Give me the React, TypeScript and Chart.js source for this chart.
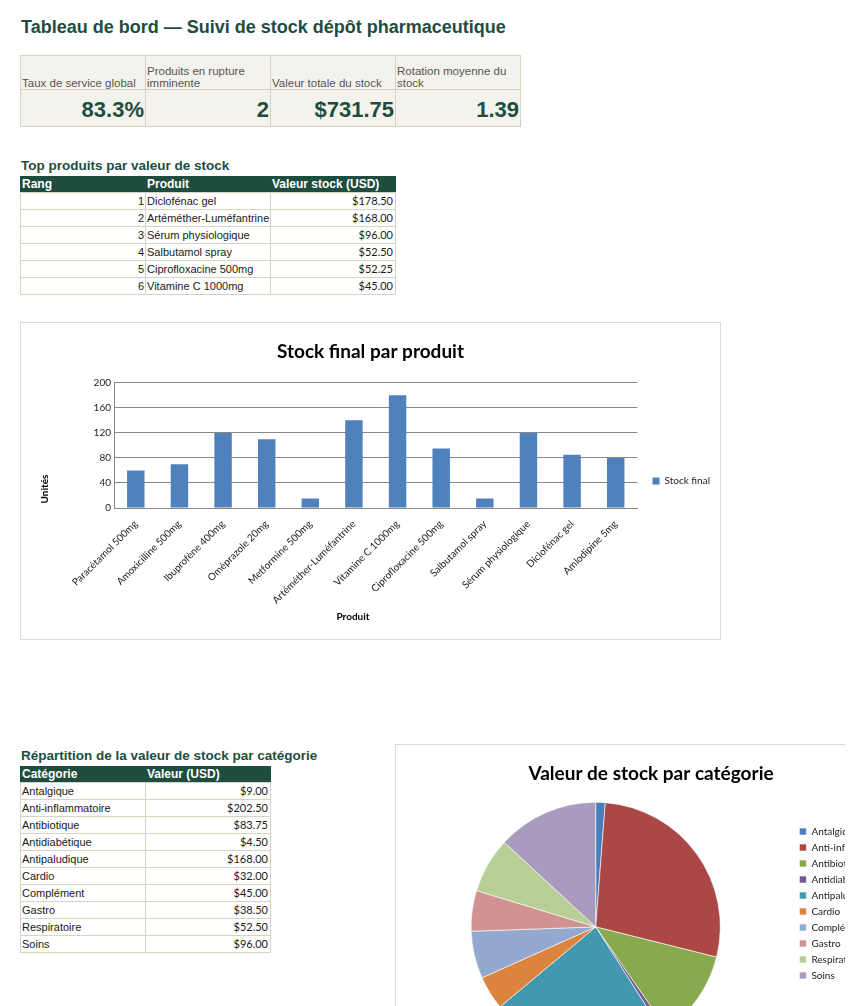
import React, { useEffect, useRef } from "react";
import { Chart, registerables } from "chart.js";

Chart.register(...registerables);

// ---- Indicateurs clés ----
const kpiLabels = [
  "Taux de service global",
  "Produits en rupture imminente",
  "Valeur totale du stock",
  "Rotation moyenne du stock",
];
const kpiValues = ["83.3%", "2", "$731.75", "1.39"];

// ---- Stock final par produit ----
const products = [
  "Paracétamol 500mg",
  "Amoxicilline 500mg",
  "Ibuprofène 400mg",
  "Oméprazole 20mg",
  "Metformine 500mg",
  "Artéméther-Luméfantrine",
  "Vitamine C 1000mg",
  "Ciprofloxacine 500mg",
  "Salbutamol spray",
  "Sérum physiologique",
  "Diclofénac gel",
  "Amlodipine 5mg",
];
const stockFinal = [60, 70, 120, 110, 15, 140, 180, 95, 15, 120, 85, 80];
const labeledTickStep = 40;

// ---- Top produits par valeur de stock ----
const topRanks = [1, 2, 3, 4, 5, 6];
const topProducts = [
  "Diclofénac gel",
  "Artéméther-Luméfantrine",
  "Sérum physiologique",
  "Salbutamol spray",
  "Ciprofloxacine 500mg",
  "Vitamine C 1000mg",
];
const topValues = [178.5, 168.0, 96.0, 52.5, 52.25, 45.0];

// ---- Valeur de stock par catégorie ----
const categories = [
  "Antalgique",
  "Anti-inflammatoire",
  "Antibiotique",
  "Antidiabétique",
  "Antipaludique",
  "Cardio",
  "Complément",
  "Gastro",
  "Respiratoire",
  "Soins",
];
const categoryValues = [9.0, 202.5, 83.75, 4.5, 168.0, 32.0, 45.0, 38.5, 52.5, 96.0];
const categoryColors = [
  "#4a7ebb",
  "#ab4744",
  "#8aa84e",
  "#71588f",
  "#4198af",
  "#db843d",
  "#93a9cf",
  "#d19392",
  "#b9cd96",
  "#a99bbd",
];

const GREEN = "#1e4d40";
const BORDER = "#d8d2c3";
const SANS = '"Liberation Sans", Arial, sans-serif';
const NUM = 'Lato, "Liberation Sans", sans-serif';
const CHART_FONT = "Lato";

const usd = (v: number) => "$" + v.toFixed(2);

// Axis captions placed freely on the canvas
const axisCaptions = {
  id: "axisCaptions",
  afterDraw(chart: any, _args: any, opts: any) {
    const ctx = chart.ctx;
    for (const c of opts.items || []) {
      ctx.save();
      ctx.translate(c.x, c.y);
      ctx.rotate(c.rotate || 0);
      ctx.font = `bold ${c.size || 10}px ${CHART_FONT}`;
      ctx.fillStyle = "#000";
      ctx.textAlign = "center";
      ctx.textBaseline = "middle";
      ctx.fillText(c.text, 0, 0);
      ctx.restore();
    }
  },
};

function ChartCanvas({ width, height, make }: { width: number; height: number; make: (c: HTMLCanvasElement) => Chart }) {
  const ref = useRef<HTMLCanvasElement>(null);
  useEffect(() => {
    if (!ref.current) return;
    const chart = make(ref.current);
    return () => chart.destroy();
  }, []);
  return <canvas ref={ref} width={width} height={height} style={{ display: "block", width, height }} />;
}

function makeBarChart(canvas: HTMLCanvasElement) {
  const tickFont = { family: CHART_FONT, size: 10 };
  return new Chart(canvas, {
    type: "bar",
    data: {
      labels: products,
      datasets: [
        {
          label: "Stock final",
          data: stockFinal,
          backgroundColor: "#4f81bd",
          barPercentage: 0.4,
          categoryPercentage: 1,
        },
      ],
    },
    plugins: [axisCaptions],
    options: {
      responsive: false,
      animation: false,
      layout: { padding: 0 },
      plugins: {
        title: {
          display: true,
          text: "Stock final par produit",
          color: "#000",
          font: { family: CHART_FONT, size: 19, weight: "bold" },
          padding: { top: 17, bottom: 20 },
        },
        legend: {
          position: "right",
          labels: {
            boxWidth: 7,
            boxHeight: 7,
            padding: 15,
            color: "#222",
            font: { family: CHART_FONT, size: 10 },
          },
        },
        tooltip: { enabled: false },
        axisCaptions: {
          items: [
            { text: "Unités", x: 24, y: 166, rotate: -Math.PI / 2 },
            { text: "Produit", x: 332, y: 294 },
          ],
        },
      } as any,
      scales: {
        x: {
          grid: { display: false },
          border: { color: "#888" },
          ticks: {
            autoSkip: false,
            minRotation: 45,
            maxRotation: 45,
            padding: 2,
            color: "#222",
            font: tickFont,
          },
          afterFit: (s: any) => {
            s.height = 131;
          },
        },
        y: {
          min: 0,
          max: 200,
          grid: { color: "#888", drawTicks: false },
          border: { color: "#888" },
          ticks: {
            stepSize: 20,
            padding: 3,
            color: "#222",
            font: tickFont,
            callback: (v: any) => (Number(v) % labeledTickStep === 0 ? String(v) : ""),
          },
          afterFit: (s: any) => {
            s.width = 93;
          },
        },
      },
    },
  });
}

function makePieChart(canvas: HTMLCanvasElement) {
  return new Chart(canvas, {
    type: "pie",
    data: {
      labels: categories,
      datasets: [
        {
          data: categoryValues,
          backgroundColor: categoryColors,
          borderColor: "rgba(255,255,255,0.6)",
          borderWidth: 1,
        },
      ],
    },
    options: {
      responsive: false,
      animation: false,
      layout: { padding: { top: 10, bottom: 13, left: 2, right: 0 } },
      plugins: {
        title: {
          display: true,
          text: "Valeur de stock par catégorie",
          color: "#000",
          font: { family: CHART_FONT, size: 19, weight: "bold" },
          padding: { top: 7, bottom: 17 },
        },
        legend: {
          position: "right",
          labels: {
            boxWidth: 7,
            boxHeight: 7,
            padding: 6,
            color: "#222",
            font: { family: CHART_FONT, size: 10 },
          },
        },
        tooltip: { enabled: false },
      },
    },
  });
}

function Cell({ x, y, w, h, style, children }: any) {
  return (
    <div
      style={{
        position: "absolute",
        left: x,
        top: y,
        width: w + 1,
        height: h + 1,
        boxSizing: "border-box",
        border: `1px solid ${BORDER}`,
        overflow: "visible",
        whiteSpace: "nowrap",
        ...style,
      }}
    >
      {children}
    </div>
  );
}

function Heading({ x, y, size, children }: any) {
  return (
    <div
      style={{
        position: "absolute",
        left: x,
        top: y,
        fontFamily: SANS,
        fontWeight: "bold",
        fontSize: size,
        color: GREEN,
        whiteSpace: "nowrap",
        lineHeight: "normal",
      }}
    >
      {children}
    </div>
  );
}

const bodyText: React.CSSProperties = {
  fontFamily: SANS,
  fontSize: 11,
  color: "#1a1a1a",
  lineHeight: "16px",
  paddingTop: 0,
};

export default function App() {
  const colW = 125;
  const kpiX = 20;
  const kpiY = 55;

  const topX = 20;
  const topHeadY = 176;
  const rowH = 17;

  const catHeadY = 766;

  return (
    <div
      style={{
        position: "absolute",
        left: 0,
        top: 0,
        width: 845,
        height: 1006,
        overflow: "hidden",
        background: "#fff",
      }}
    >
      <Heading x={21} y={17} size={18}>
        Tableau de bord — Suivi de stock dépôt pharmaceutique
      </Heading>

      {/* Indicateurs */}
      {kpiLabels.map((label, i) => (
        <Cell
          key={"kl" + i}
          x={kpiX + i * colW}
          y={kpiY}
          w={colW}
          h={34}
          style={{
            background: "#f3f2ed",
            display: "flex",
            alignItems: "flex-end",
            whiteSpace: "normal",
            fontFamily: SANS,
            fontSize: 11.5,
            color: "#555",
            padding: "0 2px 0 1px",
          }}
        >
          <span>{label}</span>
        </Cell>
      ))}
      {kpiValues.map((v, i) => (
        <Cell
          key={"kv" + i}
          x={kpiX + i * colW}
          y={kpiY + 34}
          w={colW}
          h={37}
          style={{
            background: "#f3f2ed",
            display: "flex",
            alignItems: "flex-end",
            justifyContent: "flex-end",
            fontFamily: SANS,
            fontWeight: "bold",
            fontSize: 22,
            color: GREEN,
            padding: "0 1px 3px 0",
          }}
        >
          <span>{v}</span>
        </Cell>
      ))}

      {/* Top produits */}
      <Heading x={21} y={158} size={13.5}>
        Top produits par valeur de stock
      </Heading>
      <div
        style={{
          position: "absolute",
          left: topX,
          top: topHeadY,
          width: colW * 3 + 1,
          height: 16,
          background: GREEN,
        }}
      />
      {["Rang", "Produit", "Valeur stock (USD)"].map((h, i) => (
        <div
          key={"th" + i}
          style={{
            position: "absolute",
            left: topX + i * colW + 2,
            top: topHeadY,
            height: 16,
            lineHeight: "16px",
            fontFamily: SANS,
            fontWeight: "bold",
            fontSize: 12,
            color: "#fff",
            whiteSpace: "nowrap",
          }}
        >
          {h}
        </div>
      ))}
      {topRanks.map((r, i) => {
        const y = topHeadY + 16 + i * rowH;
        return (
          <React.Fragment key={"tr" + i}>
            <Cell x={topX} y={y} w={colW} h={rowH} style={{ ...bodyText, textAlign: "right", paddingRight: 1 }}>
              {r}
            </Cell>
            <Cell x={topX + colW} y={y} w={colW} h={rowH} style={{ ...bodyText, paddingLeft: 1 }}>
              {topProducts[i]}
            </Cell>
            <Cell
              x={topX + colW * 2}
              y={y}
              w={colW}
              h={rowH}
              style={{ ...bodyText, fontFamily: NUM, textAlign: "right", paddingRight: 2 }}
            >
              {usd(topValues[i])}
            </Cell>
          </React.Fragment>
        );
      })}

      {/* Stock final par produit */}
      <div
        style={{
          position: "absolute",
          left: 20,
          top: 322,
          width: 701,
          height: 318,
          boxSizing: "border-box",
          border: "1px solid #d9d9d9",
          background: "#fff",
        }}
      >
        <ChartCanvas width={699} height={316} make={makeBarChart} />
      </div>

      {/* Répartition par catégorie */}
      <Heading x={21} y={748} size={13.5}>
        Répartition de la valeur de stock par catégorie
      </Heading>
      <div
        style={{
          position: "absolute",
          left: topX,
          top: catHeadY,
          width: colW * 2 + 1,
          height: 16,
          background: GREEN,
        }}
      />
      {["Catégorie", "Valeur (USD)"].map((h, i) => (
        <div
          key={"ch" + i}
          style={{
            position: "absolute",
            left: topX + i * colW + 2,
            top: catHeadY,
            height: 16,
            lineHeight: "16px",
            fontFamily: SANS,
            fontWeight: "bold",
            fontSize: 12,
            color: "#fff",
            whiteSpace: "nowrap",
          }}
        >
          {h}
        </div>
      ))}
      {categories.map((c, i) => {
        const y = catHeadY + 16 + i * rowH;
        return (
          <React.Fragment key={"cr" + i}>
            <Cell x={topX} y={y} w={colW} h={rowH} style={{ ...bodyText, paddingLeft: 1 }}>
              {c}
            </Cell>
            <Cell
              x={topX + colW}
              y={y}
              w={colW}
              h={rowH}
              style={{ ...bodyText, fontFamily: NUM, textAlign: "right", paddingRight: 2 }}
            >
              {usd(categoryValues[i])}
            </Cell>
          </React.Fragment>
        );
      })}

      {/* Valeur de stock par catégorie */}
      <div
        style={{
          position: "absolute",
          left: 395,
          top: 744,
          width: 510,
          height: 322,
          boxSizing: "border-box",
          border: "1px solid #d9d9d9",
          background: "#fff",
        }}
      >
        <ChartCanvas width={508} height={320} make={makePieChart} />
      </div>
    </div>
  );
}
